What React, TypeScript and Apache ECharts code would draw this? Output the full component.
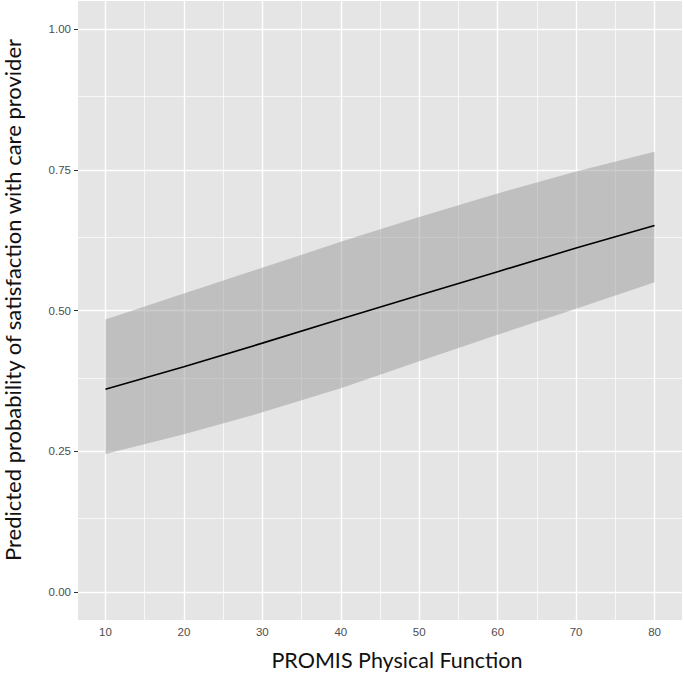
import React, { useEffect, useRef } from "react";
import * as echarts from "echarts";

const physicalFunction = [10, 20, 30, 40, 50, 60, 70, 80];
const fitted = [0.36, 0.4, 0.442, 0.485, 0.527, 0.569, 0.611, 0.651];
const lowerCI = [0.245, 0.28, 0.319, 0.362, 0.41, 0.457, 0.503, 0.55];
const upperCI = [0.484, 0.53, 0.576, 0.622, 0.666, 0.708, 0.747, 0.782];

const xMajor = [10, 20, 30, 40, 50, 60, 70, 80];
const xMinor = [15, 25, 35, 45, 55, 65, 75];
const yMajor = [0, 0.25, 0.5, 0.75, 1];
const yMinor = [0.125, 0.375, 0.625, 0.875];

const xTitle = "PROMIS Physical Function";
const yTitle = "Predicted probability of satisfaction with care provider";

export default function App() {
  const ref = useRef<HTMLDivElement>(null);
  useEffect(() => {
    if (!ref.current) return;
    const chart = echarts.init(ref.current, null, { renderer: "svg" });
    const major = { color: "#ffffff", width: 1.4, type: "solid" as const };
    const minor = { color: "#ffffff", width: 0.7, type: "solid" as const };
    const bandData = physicalFunction.map((x, i) => [x, lowerCI[i], upperCI[i]]);
    const option = {
      animation: false,
      grid: {
        left: 78,
        right: 2,
        top: 1,
        bottom: 53,
        show: true,
        backgroundColor: "#e5e5e5",
        borderWidth: 0,
      },
      xAxis: {
        type: "value",
        min: 6.5,
        max: 83.5,
        splitLine: { show: false },
        axisLine: { show: false },
        axisTick: {
          show: true,
          customValues: xMajor,
          length: 4,
          lineStyle: { color: "#333333", width: 1 },
        },
        axisLabel: {
          customValues: xMajor,
          color: "#4d4d4d",
          fontFamily: "Liberation Sans, Arial, sans-serif",
          fontSize: 11.5,
          margin: 6,
        },
      },
      yAxis: {
        type: "value",
        min: -0.05,
        max: 1.05,
        splitLine: { show: false },
        axisLine: { show: false },
        axisTick: {
          show: true,
          customValues: yMajor,
          length: 4,
          lineStyle: { color: "#333333", width: 1 },
        },
        axisLabel: {
          customValues: yMajor,
          formatter: (v: number) => v.toFixed(2),
          color: "#4d4d4d",
          fontFamily: "Liberation Sans, Arial, sans-serif",
          fontSize: 11.5,
          margin: 7,
        },
      },
      graphic: [
        {
          type: "text",
          x: 397,
          y: 660,
          style: {
            text: xTitle,
            font: "21.5px Lato",
            fill: "#111111",
            align: "center",
            verticalAlign: "middle",
          },
        },
        {
          type: "text",
          x: 12,
          y: 300,
          rotation: Math.PI / 2,
          style: {
            text: yTitle,
            font: "22px Lato",
            lineHeight: 22,
            fill: "#111111",
            align: "center",
            verticalAlign: "middle",
          },
        },
      ],
      series: [
        {
          type: "line",
          name: "grid",
          data: [],
          z: 1,
          silent: true,
          markLine: {
            silent: true,
            symbol: ["none", "none"],
            label: { show: false },
            animation: false,
            data: [
              ...xMinor.map((v) => ({ xAxis: v, lineStyle: minor })),
              ...yMinor.map((v) => ({ yAxis: v, lineStyle: minor })),
              ...xMajor.map((v) => ({ xAxis: v, lineStyle: major })),
              ...yMajor.map((v) => ({ yAxis: v, lineStyle: major })),
            ],
          },
        },
        {
          type: "custom",
          name: "band",
          z: 10,
          silent: true,
          data: bandData,
          encode: { x: 0, y: [1, 2] },
          renderItem: (params: any, api: any) => {
            if (params.dataIndex !== 0) return null;
            const upperPts = bandData.map((d) => api.coord([d[0], d[2]]));
            const lowerPts = bandData
              .slice()
              .reverse()
              .map((d) => api.coord([d[0], d[1]]));
            return {
              type: "polygon",
              shape: { points: upperPts.concat(lowerPts) },
              style: { fill: "rgba(153,153,153,0.5)" },
            };
          },
        },
        {
          type: "line",
          name: "fit",
          z: 11,
          silent: true,
          symbol: "none",
          lineStyle: { color: "#000000", width: 1.6 },
          data: physicalFunction.map((x, i) => [x, fitted[i]]),
        },
      ],
    };
    chart.setOption(option as any);
    return () => chart.dispose();
  }, []);
  return (
    <div
      ref={ref}
      style={{ position: "fixed", left: 0, top: 0, width: 684, height: 673, background: "#ffffff" }}
    />
  );
}
